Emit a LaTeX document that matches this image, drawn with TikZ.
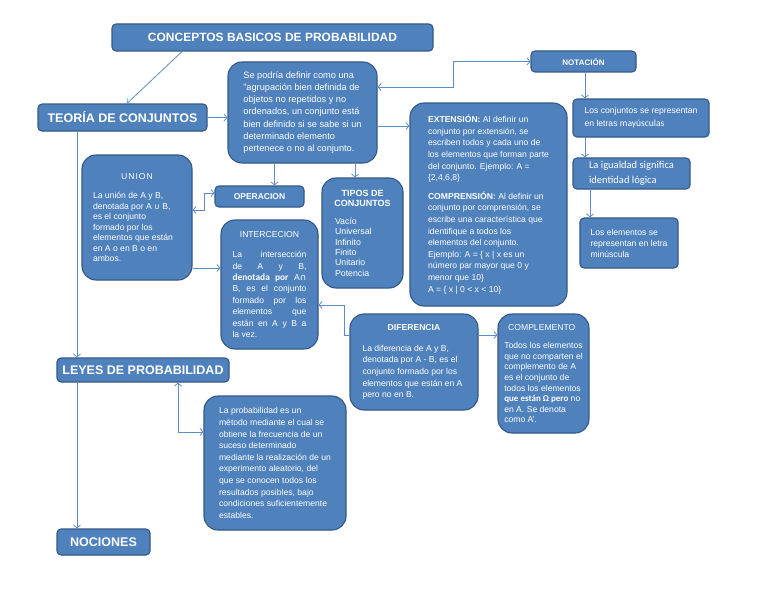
\documentclass[tikz,border=0pt]{standalone}
\usepackage{fontspec}
\setmainfont{Liberation Sans}
\newfontfamily\calibfont{Carlito}
\newfontfamily\symbfont{DejaVu Sans}
\usetikzlibrary{arrows.meta}
\definecolor{boxfill}{RGB}{79,129,189}
\definecolor{boxedge}{RGB}{52,88,134}
\definecolor{linkcol}{RGB}{95,140,200}
\tikzset{
  box/.style={draw=boxedge, line width=1.1pt, fill=boxfill, text=white, rounded corners=4pt, inner sep=0pt, align=left},
  roundbox/.style={box, rounded corners=14pt},
  head/.style={font=\bfseries\fontsize{12.5}{15}\selectfont},
  minihead/.style={font=\bfseries\fontsize{8.5}{10}\selectfont},
  body/.style={font=\fontsize{8.6}{11.6}\selectfont},
  link/.style={draw=linkcol, line width=0.8pt, -{Straight Barb[length=3pt,width=7pt]}},
  twolink/.style={link, {Straight Barb[length=3pt,width=7pt]}-{Straight Barb[length=3pt,width=7pt]}}
}
\begin{document}
\begin{tikzpicture}[x=1pt, y=-1pt]
\useasboundingbox (0,0) rectangle (768,594);

% Top - title and sets theory
\node[box, head, font=\bfseries\fontsize{12}{14}\selectfont, minimum width=321, minimum height=27] (conceptos) at (272.5,37.5) {CONCEPTOS BASICOS DE PROBABILIDAD};
\node[box, head, minimum width=169, minimum height=27] (teoria) at (122.5,117.5) {TEOR\'IA DE CONJUNTOS};
\node[roundbox, body, font=\fontsize{9.2}{12.3}\selectfont, minimum width=149, minimum height=101] (defbox) at (302.5,112.5) {Se podr\'ia definir como una\\
"agrupaci\'on bien definida de\\
objetos no repetidos y no\\
ordenados, un conjunto est\'a\\
bien definido si se sabe si un\\
determinado elemento\\
pertenece o no al conjunto.};

% Right side - notation
\node[box, minihead, font=\bfseries\fontsize{8}{10}\selectfont, minimum width=105, minimum height=21] (notacion) at (583.5,61.5) {NOTACI\'ON};
\node[box, body, font=\fontsize{8.6}{13}\selectfont, minimum width=136, minimum height=38] (conjrep) at (641,118) {Los conjuntos se representan\\ en letras {\calibfont\fontsize{9.5}{12}\selectfont may\'usculas}};
\node[box, font=\calibfont\fontsize{10.5}{15}\selectfont, minimum width=117, minimum height=31] (igualdad) at (631.5,173.5) {La igualdad significa\\ identidad l\'ogica};
\node[box, body, font=\fontsize{8.6}{11}\selectfont, minimum width=98, minimum height=50] (elementos) at (629,243) {Los elementos se\\ representan en letra\\ min\'uscula};

% Middle - extension and comprehension
\node[roundbox, body, minimum width=157, minimum height=203] (extension) at (488.5,204.5) {{\bfseries EXTENSI\'ON:} Al definir un\\
conjunto por extensi\'on, se\\
escriben todos y cada uno de\\
los elementos que forman parte\\
del conjunto. Ejemplo: A =\\
\{2,4,6,8\}\\[7pt]
{\bfseries COMPRENSI\'ON:} Al definir un\\
conjunto por comprensi\'on, se\\
escribe una caracter\'istica que\\
identifique a todos los\\
elementos del conjunto.\\
Ejemplo: A = \{ x | x es un\\
n\'umero par mayor que 0 y\\
menor que 10\}\\
A = \{ x | 0 < x < 10\}};

% Operations
\node[roundbox, body, font=\fontsize{8.6}{10.5}\selectfont, minimum width=110, minimum height=125] (union) at (137,217.5) {\makebox[88pt][c]{\addfontfeature{LetterSpace=12}UNION}\\[9pt]
La uni\'on de A y B,\\
denotada por A {\symbfont\fontsize{8}{10}\selectfont ∪} B,\\
es el conjunto\\
formado por los\\
elementos que est\'an\\
en A o en B o en\\
ambos.};
\node[box, minihead, minimum width=89, minimum height=21] (operacion) at (259.5,196.5) {OPERACION};
\node[roundbox, body, font=\fontsize{8.8}{10.3}\selectfont, minimum width=81, minimum height=110] (tipos) at (362.5,233) {\makebox[55pt][c]{\bfseries\fontsize{9}{10}\selectfont TIPOS DE}\\
\makebox[55pt][c]{\bfseries\fontsize{9}{10}\selectfont CONJUNTOS}\\[8pt]
Vac\'io\\ Universal\\ Infinito\\ Finito\\ Unitario\\ Potencia};
\node[roundbox, body, font=\fontsize{8.6}{11.4}\selectfont, minimum width=97, minimum height=129] (intercecion) at (269.5,284.5) {\makebox[74pt][c]{INTERCECION}\\[9pt]
\makebox[74pt][s]{La intersecci\'on}\\
\makebox[74pt][s]{de A y B,}\\
\makebox[74pt][s]{{\calibfont\bfseries\fontsize{9.4}{11}\selectfont denotada por} A{\symbfont\fontsize{9}{10}\selectfont ∩}}\\
\makebox[74pt][s]{B, es el conjunto}\\
\makebox[74pt][s]{formado por los}\\
\makebox[74pt][s]{elementos que}\\
\makebox[74pt][s]{est\'an en A y B a}\\
la vez.};
\node[roundbox, body, minimum width=128, minimum height=96] (diferencia) at (414,362) {\makebox[103pt][c]{\bfseries DIFERENCIA}\\[9pt]
La diferencia de A y B,\\
denotada por A - B, es el\\
conjunto formado por los\\
elementos que est\'an en A\\
pero no en B.};
\node[roundbox, body, font=\fontsize{8.6}{10.6}\selectfont, minimum width=91, minimum height=119] (complemento) at (543.5,373.5) {\makebox[75pt][c]{COMPLEMENTO}\\[8pt]
Todos los elementos\\
que no comparten el\\
complemento de A\\
es el conjunto de\\
todos los elementos\\
{\calibfont\bfseries\fontsize{9}{10}\selectfont que est\'an Ω pero} no\\
en A. Se denota\\
como A'.};

% Bottom - probability
\node[box, head, minimum width=172, minimum height=24] (leyes) at (143,370) {LEYES DE PROBABILIDAD};
\node[roundbox, body, minimum width=142, minimum height=134] (probab) at (275,463) {La probabilidad es un\\
m\'etodo mediante el cual se\\
obtiene la frecuencia de un\\
suceso determinado\\
mediante la realizaci\'on de un\\
experimento aleatorio, del\\
que se conocen todos los\\
resultados posibles, bajo\\
condiciones suficientemente\\
estables.};
\node[box, head, minimum width=93, minimum height=26] (nociones) at (103.5,542) {NOCIONES};

% Connectors
\draw[link] ([xshift=-90.5pt]conceptos.south) -- ([xshift=4.5pt]teoria.north);
\draw[link] (teoria.east) -- (teoria.east -| defbox.west);
\draw[link] ([xshift=15pt]operacion.north |- defbox.south) -- ([xshift=15pt]operacion.north);
\draw[link] ([xshift=-7.5pt]tipos.north |- defbox.south) -- ([xshift=-7.5pt]tipos.north);
\draw[twolink] ([yshift=25.5pt]defbox.east) -- ++(76,0) |- (notacion.west);
\draw[link] ([yshift=-13.5pt]defbox.east) -- ([yshift=-13.5pt]defbox.east -| extension.west);
\draw[link] ([xshift=1.5pt]notacion.south) -- ([xshift=1.5pt]notacion.south |- conjrep.north);
\draw[link] ([xshift=-56pt]conjrep.south) -- ([xshift=-56pt]conjrep.south |- igualdad.north);
\draw[link] ([xshift=-41.5pt]igualdad.south) -- ([xshift=-41.5pt]igualdad.south |- elementos.north);
\draw[twolink] ([yshift=3.5pt]operacion.west) -- ++(-10,0) |- ([yshift=7.5pt]union.east);
\draw[link] ([yshift=-50.5pt]union.east) -- ([yshift=-50.5pt]union.east -| intercecion.west);
\draw[link] ([yshift=27pt]diferencia.west) -- ++(-5,0) |- ([yshift=-20.5pt]intercecion.east);
\draw[link] ([yshift=27pt]diferencia.east) -- ([yshift=27pt]diferencia.east -| complemento.west);
\draw[link] ([xshift=-45.5pt]teoria.south) -- ([xshift=-45.5pt]teoria.south |- leyes.north);
\draw[link] ([xshift=-66pt]leyes.south) -- ([xshift=-66pt]leyes.south |- nociones.north);
\draw[twolink] ([xshift=35pt]leyes.south) |- ([yshift=31pt]probab.west);
\end{tikzpicture}
\end{document}
